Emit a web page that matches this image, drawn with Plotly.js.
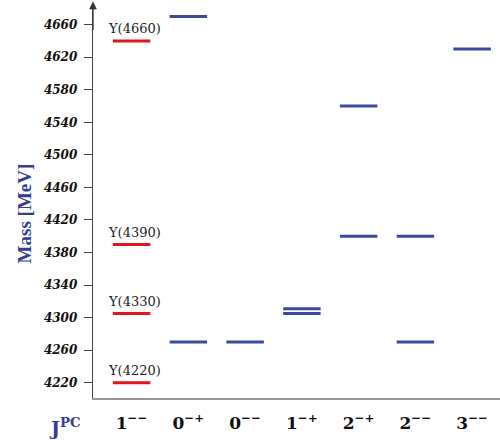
<!DOCTYPE html>
<html>
<head>
<meta charset="utf-8">
<script src="https://cdn.plot.ly/plotly-3.0.1.min.js"></script>
<style>html,body{margin:0;padding:0;background:#fff;}#chart{width:500px;height:440px;}</style>
</head>
<body>
<div id="chart"></div>
<script>
// Categories (J^PC) and tick labels
var categories = ["1--", "0-+", "0--", "1-+", "2-+", "2--", "3--"];
var tickLabels = ["1<sup>\u2212\u2212</sup>", "0<sup>\u2212+</sup>", "0<sup>\u2212\u2212</sup>", "1<sup>\u2212+</sup>", "2<sup>\u2212+</sup>", "2<sup>\u2212\u2212</sup>", "3<sup>\u2212\u2212</sup>"];

// Observed Y states (red, 1--)
var yStateCategory = ["1--", "1--", "1--", "1--"];
var yStateMass = [4220, 4305, 4390, 4640];
var yStateNames = ["Y(4220)", "Y(4330)", "Y(4390)", "Y(4660)"];

// Predicted levels (blue)
var predCategory = ["0-+", "0-+", "0--", "1-+", "1-+", "2-+", "2-+", "2--", "2--", "3--"];
var predMass = [4270, 4670, 4270, 4305, 4311, 4400, 4560, 4270, 4400, 4630];

var HALF = 0.33;
function segments(cats, masses) {
  var xs = [], ys = [];
  for (var i = 0; i < cats.length; i++) {
    var c = categories.indexOf(cats[i]);
    xs.push(c - HALF, c + HALF, null);
    ys.push(masses[i], masses[i], null);
  }
  return {x: xs, y: ys};
}
var red = segments(yStateCategory, yStateMass);
var blue = segments(predCategory, predMass);

var traces = [
  {x: blue.x, y: blue.y, mode: "lines", type: "scatter", line: {color: "#3c4a9c", width: 3}, hoverinfo: "skip", name: "Predicted"},
  {x: red.x, y: red.y, mode: "lines", type: "scatter", line: {color: "#e3141c", width: 3}, hoverinfo: "skip", name: "Y states"}
];

var annotations = [];
for (var i = 0; i < yStateMass.length; i++) {
  annotations.push({
    x: categories.indexOf(yStateCategory[i]), y: yStateMass[i], xref: "x", yref: "y",
    text: yStateNames[i], showarrow: false, yshift: 12, xshift: 3,
    font: {family: "DejaVu Serif", size: 13, color: "#222"}
  });
}
// axis arrow
annotations.push({x: 0, y: 1.009, xref: "paper", yref: "paper", ax: 0, ay: 30, showarrow: true,
  arrowhead: 2, arrowsize: 1.2, arrowwidth: 1.3, arrowcolor: "#333", text: ""});
// y axis title
annotations.push({x: -0.2, y: 0.47, xref: "paper", yref: "paper", showarrow: false, textangle: -90,
  text: "<b>Mass [MeV]</b>", font: {family: "Liberation Serif", size: 19, color: "#343c94"}});
// J^PC label
annotations.push({x: -0.112, y: -0.11, xref: "paper", yref: "paper", showarrow: false,
  text: "<b>J<sup>PC</sup></b>", font: {family: "DejaVu Serif", size: 19, color: "#343c94"}});

var layout = {
  width: 500, height: 440,
  margin: {l: 93, r: 0, t: 5, b: 42},
  paper_bgcolor: "#fff", plot_bgcolor: "#fff",
  showlegend: false,
  xaxis: {
    range: [-0.68, 6.49], tickvals: [0,1,2,3,4,5,6], ticktext: tickLabels,
    showgrid: false, zeroline: false, showline: true, linecolor: "#999", linewidth: 2,
    ticks: "", ticklabelstandoff: 9,
    tickfont: {family: "DejaVu Serif", size: 17, color: "#111", weight: "bold"}
  },
  yaxis: {
    range: [4201.2, 4684.2], tickvals: [4220,4260,4300,4340,4380,4420,4460,4500,4540,4580,4620,4660],
    showgrid: false, zeroline: false, showline: true, linecolor: "#444", linewidth: 1.3,
    ticks: "outside", ticklen: 8, tickcolor: "#444", tickwidth: 1,
    ticklabelstandoff: 4,
    tickfont: {family: "DejaVu Serif", size: 12, color: "#111", weight: "bold", style: "italic"}
  },
  annotations: annotations
};
Plotly.newPlot("chart", traces, layout, {staticPlot: true});
</script>
</body>
</html>
